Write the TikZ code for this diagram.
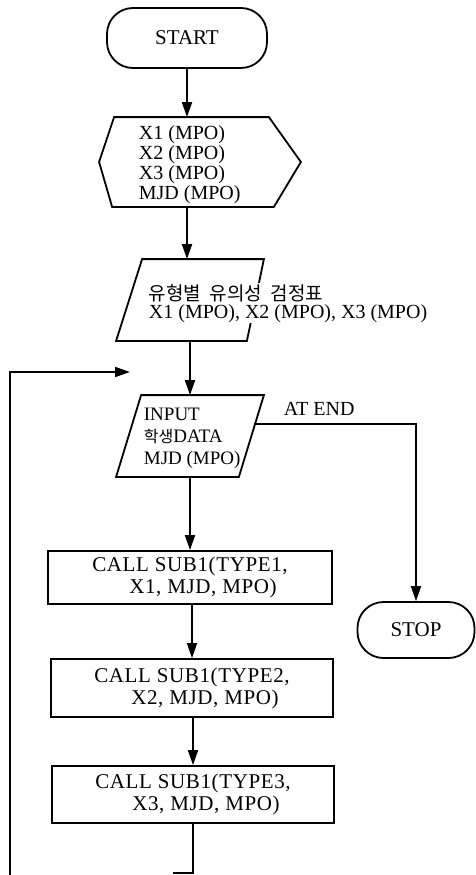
\documentclass[tikz,border=0pt]{standalone}
\usepackage{fontspec}
\setmainfont{Liberation Serif}
\newfontfamily\kr[WordSpace=2]{Noto Sans CJK KR}
\newfontfamily\callfont[LetterSpace=3]{Liberation Serif}
\usetikzlibrary{arrows.meta}
\begin{document}
\begin{tikzpicture}[x=1pt,y=-1pt,line width=1.8pt,
  font=\fontsize{21}{22}\selectfont,
  term/.style={draw,rectangle,rounded corners=26pt,inner sep=0pt},
  box/.style={draw,rectangle,inner sep=0pt,align=left,font=\callfont\fontsize{21}{22}\selectfont},
  ghost/.style={rectangle,inner sep=0pt},
  txt/.style={inner sep=0pt,anchor=base west},
  small/.style={font=\fontsize{20}{21}\selectfont},
  arr/.style={-{Triangle[length=15pt,width=10pt]}}]
\useasboundingbox (0,0) rectangle (476,875);

% shapes
\node[term,minimum width=160pt,minimum height=60pt] (start) at (187,38) {START};

\node[ghost,minimum width=200pt,minimum height=88pt] (hex) at (200,162) {};
\draw (hex.west) -- ([xshift=15pt]hex.north west) -- ([xshift=-32pt]hex.north east)
  -- (hex.east) -- ([xshift=-27pt]hex.south east) -- ([xshift=13pt]hex.south west) -- cycle;
\node[txt,small] (hext1) at (138,139) {X1 (MPO)};
\node[txt,small] (hext2) at (138,159) {X2 (MPO)};
\node[txt,small] (hext3) at (138,179) {X3 (MPO)};
\node[txt,small] (hext4) at (138,199) {MJD (MPO)};

\node[ghost,minimum width=146pt,minimum height=80pt] (p1) at (190,300) {};
\draw ([xshift=26pt]p1.north west) -- (p1.north east) -- ([xshift=-17pt]p1.south east)
  -- (p1.south west) -- cycle;
\node[txt,fill=white,inner sep=1pt] (p1t1) at (147,300)
  {\kr\fontsize{19}{20}\selectfont 유형별 유의성 검정표};
\node[txt,small,fill=white,inner sep=1pt] (p1t2) at (147,318) {X1 (MPO), X2 (MPO), X3 (MPO)};

\node[ghost,minimum width=146pt,minimum height=80pt] (inp) at (190,436) {};
\draw ([xshift=25pt]inp.north west) -- (inp.north east) -- ([xshift=-25pt]inp.south east)
  -- (inp.south west) -- cycle;
\node[txt,font=\fontsize{19}{20}\selectfont] (inpt1) at (143,420) {INPUT};
\node[txt,font=\fontsize{19}{20}\selectfont] (inpt2) at (143,442) {{\kr\fontsize{16}{20}\selectfont 학생}DATA};
\node[txt,font=\fontsize{19}{20}\selectfont] (inpt3) at (143,464) {MJD (MPO)};
\coordinate (inpr) at (254,424);
\node[txt,small] (atend) at (283,415) {AT END};

\node[term,minimum width=117pt,minimum height=56pt] (stop) at (416,630) {STOP};

\node[box,minimum width=284pt,minimum height=53pt] (c1) at (190,577.5)
  {CALL SUB1(TYPE1,\\\hspace*{37pt}X1, MJD, MPO)};
\node[box,minimum width=282pt,minimum height=58pt] (c2) at (192,688)
  {CALL SUB1(TYPE2,\\\hspace*{37pt}X2, MJD, MPO)};
\node[box,minimum width=282pt,minimum height=57pt] (c3) at (193,794.5)
  {CALL SUB1(TYPE3,\\\hspace*{37pt}X3, MJD, MPO)};

% connectors
\draw[arr] (start.south) -- (start.south |- hex.north);
\draw[arr] (hex.south -| start.south) -- (p1.north -| start.south);
\draw[arr] (p1.south) -- (inp.north);
\draw[arr] (inpr) -| (stop.north);
\draw[arr] (inp.south) -- (c1.north);
\draw[arr] (c2.north |- c1.south) -- (c2.north);
\draw[arr] (c3.north |- c2.south) -- (c3.north);

\coordinate (bb) at (193,873);
\coordinate (be) at (173,873);
\draw (c3.south) -- (bb) -- (be);

\coordinate (lb) at (10,875);
\coordinate (lt) at (10,372);
\coordinate (la) at (130,372);
\draw[arr] (lb) -- (lt) -- (la);
\end{tikzpicture}
\end{document}
